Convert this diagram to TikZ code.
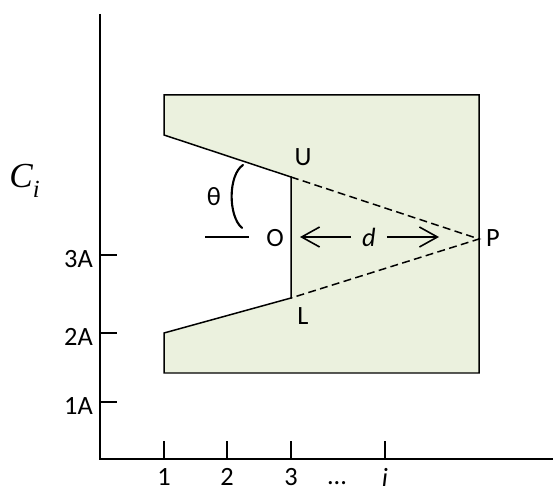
\documentclass[tikz,border=0pt]{standalone}
\usepackage{fontspec}
\setmainfont{Carlito}
\newfontfamily\timesfont{Liberation Serif}
\usepackage{xcolor}
\usepackage{tikz}
\usetikzlibrary{arrows.meta,positioning,calc}
\definecolor{platefill}{HTML}{EBF1DE}
\tikzset{
  >={Straight Barb[length=3.6mm,width=4mm]},
  axisline/.style={line width=1.1pt},
  tickline/.style={line width=1pt},
  plate/.style={draw, line width=0.85pt, fill=platefill},
  sight/.style={line width=0.85pt, dash pattern=on 4.5pt off 2.5pt},
  arcline/.style={line width=1.2pt, line cap=round},
  lbl/.style={font=\fontsize{15}{18}\selectfont, inner sep=0.5pt},
}

\begin{document}
\begin{tikzpicture}[x=0.02cm, y=-0.02cm]
  \useasboundingbox (0,0) rectangle (553,492);

  \coordinate (top) at (100,14);
  \coordinate (o) at (100,459);
  \coordinate (xend) at (553,459);
  \draw[axisline] (top) -- (o) -- (xend);

  \coordinate (tl) at (164,95);
  \coordinate (tr) at (479,95);
  \coordinate (br) at (479,373);
  \coordinate (bl) at (164,373);
  \coordinate (ll) at (164,333);
  \coordinate (lu) at (164,135);
  \coordinate (U) at (291,177);
  \coordinate (L) at (291,298);
  \coordinate (P) at (479,239);
  \filldraw[plate] (tl) -- (tr) -- (br) -- (bl) -- (ll) -- (L) -- (U) -- (lu) -- cycle;
  \draw[sight] (U) -- (P) -- (L);

  \foreach \y/\t in {255/3A,333/2A,402/1A}{
    \draw[tickline] (100,\y) -- (117,\y);
    \node[lbl, anchor=east] (y\t) at (94,\y+4) {\t};
  }
  \foreach \x/\t in {164/1,227/2,291/3}{
    \draw[tickline] (\x,441) -- (\x,459);
    \node[lbl] (x\t) at (\x,477) {\t};
  }
  \draw[tickline] (385,441) -- (385,459);
  \node[lbl] (xi) at (385,477) {\itshape i};
  \node[lbl] (xdots) at (337,483) {...};

  \node[anchor=base west, inner sep=0pt] (ci) at (9,188)
    {\timesfont\itshape\fontsize{20}{24}\selectfont C\raisebox{-5.5pt}{\fontsize{14}{16}\selectfont i}};

  \node[lbl] (lU) at (303,157) {U};
  \node[lbl] (lL) at (303,316) {L};
  \node[lbl] (lO) at (275,238) {O};
  \node[lbl] (lP) at (493,238) {P};
  \node[lbl] (th) at (214,197) {θ};

  \coordinate (tha) at (243,165);
  \coordinate (thb) at (242,228);
  \draw[arcline] (tha) .. controls (228,175) and (228,216) .. (thb);
  \coordinate (hl) at (205,237);
  \coordinate (hr) at (249,237);
  \draw[tickline] (hl) -- (hr);

  \coordinate (dl) at (300,237);
  \coordinate (dr) at (439,237);
  \node[lbl, minimum width=0.7cm] (d) at (369,237) {\itshape d};
  \draw[->, line width=0.9pt] (d) -- (dl);
  \draw[->, line width=0.9pt] (d) -- (dr);
\end{tikzpicture}
\end{document}
